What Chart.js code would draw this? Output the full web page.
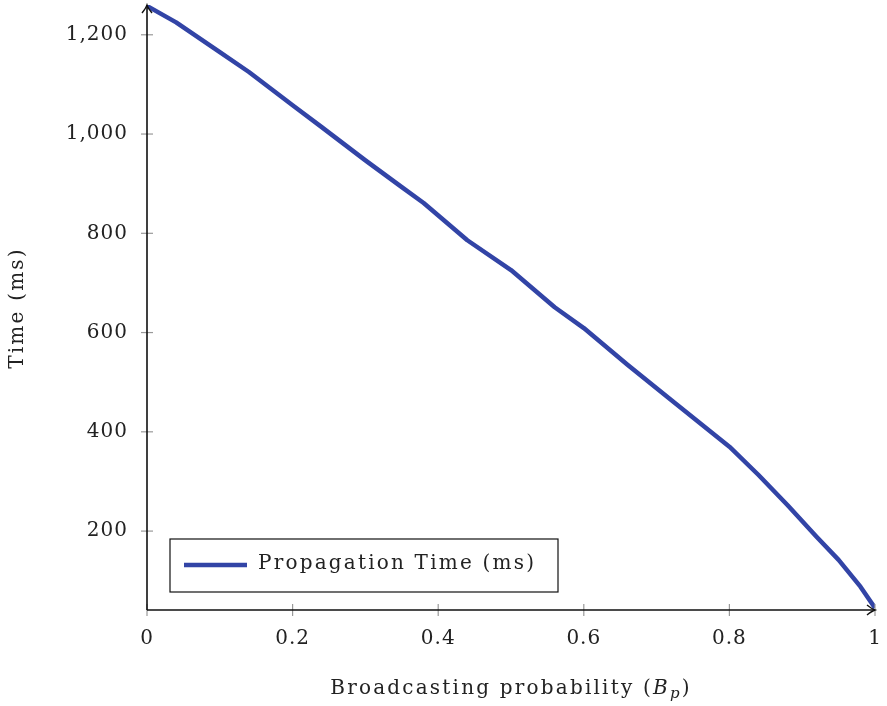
<!DOCTYPE html>
<html>
<head>
<meta charset="utf-8">
<script src="https://cdn.jsdelivr.net/npm/chart.js@4"></script>
<style>
  html, body { margin: 0; padding: 0; background: #fff; }
  #wrap { width: 887px; height: 706px; }
</style>
</head>
<body>
<div id="wrap"><canvas id="chart" width="887" height="706"></canvas></div>
<script>
// values
const probability = [0, 0.04, 0.1, 0.14, 0.2, 0.24, 0.3, 0.35, 0.38, 0.44, 0.5, 0.56, 0.6, 0.66, 0.72, 0.8, 0.84, 0.88, 0.92, 0.95, 0.98, 1.0];
const propagationTime = [1258, 1225, 1165, 1125, 1058, 1014, 947, 893, 861, 786, 726, 651, 609, 535, 464, 370, 313, 252, 188, 142, 88, 45];
const xTicks = [0, 0.2, 0.4, 0.6, 0.8, 1];
const yTicks = [200, 400, 600, 800, 1000, 1200];
const seriesLabel = 'Propagation Time (ms)';
const lineColor = '#3244a6';
const serif = '"DejaVu Serif", "Liberation Serif", serif';

const axesPlugin = {
    id: 'axesPlugin',
    beforeDraw(chart) {
        chart.ctx.letterSpacing = '1px';
    },
    afterDraw(chart) {
        const ctx = chart.ctx;
        const a = chart.chartArea;
        const xs = chart.scales.x, ys = chart.scales.y;
        ctx.save();

        // tick marks crossing the axes
        ctx.strokeStyle = '#999';
        ctx.lineWidth = 1.2;
        xTicks.forEach(v => {
            const px = xs.getPixelForValue(v);
            ctx.beginPath(); ctx.moveTo(px, a.bottom - 6); ctx.lineTo(px, a.bottom + 6); ctx.stroke();
        });
        yTicks.forEach(v => {
            const py = ys.getPixelForValue(v);
            ctx.beginPath(); ctx.moveTo(a.left - 6, py); ctx.lineTo(a.left + 6, py); ctx.stroke();
        });

        // axis lines with arrow heads
        ctx.strokeStyle = '#111';
        ctx.lineWidth = 1.6;
        ctx.beginPath();
        ctx.moveTo(a.left, a.bottom); ctx.lineTo(a.right, a.bottom);
        ctx.moveTo(a.left, a.bottom); ctx.lineTo(a.left, a.top);
        ctx.stroke();
        ctx.lineWidth = 1.4;
        ctx.beginPath();
        ctx.moveTo(a.right - 8, a.bottom - 5); ctx.quadraticCurveTo(a.right - 3, a.bottom - 1, a.right, a.bottom);
        ctx.quadraticCurveTo(a.right - 3, a.bottom + 1, a.right - 8, a.bottom + 5);
        ctx.moveTo(a.left - 5, a.top + 8); ctx.quadraticCurveTo(a.left - 1, a.top + 3, a.left, a.top);
        ctx.quadraticCurveTo(a.left + 1, a.top + 3, a.left + 5, a.top + 8);
        ctx.stroke();

        // legend box
        const lx = 170, ly = 539, lw = 388, lh = 53;
        ctx.fillStyle = '#fff';
        ctx.fillRect(lx, ly, lw, lh);
        ctx.strokeStyle = '#111';
        ctx.lineWidth = 1.2;
        ctx.strokeRect(lx, ly, lw, lh);
        ctx.strokeStyle = lineColor;
        ctx.lineWidth = 4.5;
        ctx.beginPath(); ctx.moveTo(lx + 14, ly + 26); ctx.lineTo(lx + 77, ly + 26); ctx.stroke();
        ctx.fillStyle = '#222';
        ctx.letterSpacing = '2.2px';
        ctx.font = '20px ' + serif;
        ctx.textBaseline = 'middle';
        ctx.textAlign = 'left';
        ctx.fillText(seriesLabel, lx + 88, ly + 25);

        // x axis title with italic B and subscript p
        const cx = (a.left + a.right) / 2;
        const ty = 689;
        ctx.font = '20px ' + serif;
        const p1 = 'Broadcasting probability (';
        const w1 = ctx.measureText(p1).width;
        ctx.font = 'italic 20px ' + serif;
        const w2 = ctx.measureText('B').width;
        ctx.font = 'italic 15px ' + serif;
        const w3 = ctx.measureText('p').width;
        ctx.font = '20px ' + serif;
        const w4 = ctx.measureText(')').width;
        let x0 = cx - (w1 + w2 + w3 + w4) / 2;
        ctx.fillText(p1, x0, ty); x0 += w1;
        ctx.font = 'italic 20px ' + serif;
        ctx.fillText('B', x0, ty); x0 += w2;
        ctx.font = 'italic 15px ' + serif;
        ctx.fillText('p', x0, ty + 5); x0 += w3;
        ctx.font = '20px ' + serif;
        ctx.fillText(')', x0, ty);

        // y axis title
        ctx.translate(18, 308);
        ctx.rotate(-Math.PI / 2);
        ctx.textAlign = 'center';
        ctx.fillText('Time (ms)', 0, 0);
        ctx.restore();
    }
};

new Chart(document.getElementById('chart'), {
    type: 'line',
    data: {
        datasets: [{
            label: seriesLabel,
            data: probability.map((p, i) => ({ x: p, y: propagationTime[i] })),
            borderColor: lineColor,
            borderWidth: 4.5,
            borderJoinStyle: 'round',
            pointRadius: 0,
            tension: 0,
            fill: false,
        }],
    },
    options: {
        responsive: false,
        animation: false,
        layout: { padding: { left: 0, top: 5, right: 12, bottom: 0 } },
        plugins: { legend: { display: false }, tooltip: { enabled: false } },
        scales: {
            x: {
                type: 'linear',
                min: 0, max: 1,
                afterBuildTicks: s => { s.ticks = xTicks.map(v => ({ value: v })); },
                afterFit: s => { s.height = 96; s.paddingLeft = 0; s.paddingRight = 0; },
                grid: { display: false, drawTicks: false },
                border: { display: false },
                ticks: {
                    padding: 17,
                    color: '#222',
                    font: { family: serif, size: 20 },
                    callback: v => String(v),
                },
            },
            y: {
                type: 'linear',
                min: 41, max: 1260,
                afterBuildTicks: s => { s.ticks = yTicks.map(v => ({ value: v })); },
                afterFit: s => { s.width = 147; s.paddingTop = 0; s.paddingBottom = 0; },
                grid: { display: false, drawTicks: false },
                border: { display: false },
                ticks: {
                    padding: 19,
                    color: '#222',
                    font: { family: serif, size: 20 },
                    callback: v => v.toLocaleString('en-US'),
                },
            },
        },
    },
    plugins: [axesPlugin],
});
</script>
</body>
</html>
